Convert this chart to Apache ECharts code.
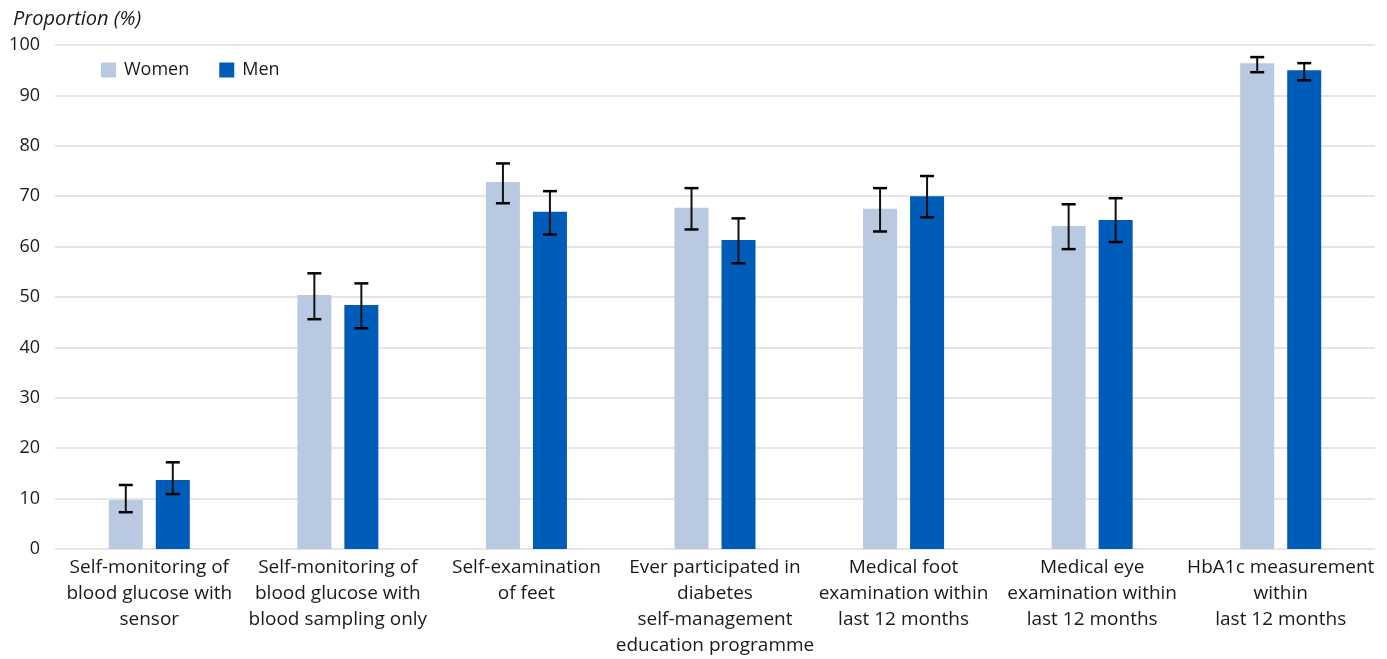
<!DOCTYPE html>
<html><head><meta charset="utf-8">
<script src="https://cdn.jsdelivr.net/npm/echarts@6/dist/echarts.min.js"></script>
<style>html,body{margin:0;padding:0;background:#fff}#c{width:1387px;height:659px}</style>
</head><body><div id="c"></div>
<script>
const categories = [
  "Self-monitoring of\nblood glucose with\nsensor",
  "Self-monitoring of\nblood glucose with\nblood sampling only",
  "Self-examination\nof feet",
  "Ever participated in\ndiabetes\nself-management\neducation programme",
  "Medical foot\nexamination within\nlast 12 months",
  "Medical eye\nexamination within\nlast 12 months",
  "HbA1c measurement\nwithin\nlast 12 months"
];
const women = [9.7, 50.4, 72.8, 67.7, 67.5, 64.1, 96.4];
const womenLow = [7.3, 45.6, 68.6, 63.4, 63.0, 59.5, 94.6];
const womenHigh = [12.7, 54.7, 76.5, 71.6, 71.6, 68.4, 97.6];
const men = [13.7, 48.4, 66.9, 61.3, 70.0, 65.3, 95.0];
const menLow = [10.9, 43.8, 62.4, 56.7, 65.8, 60.9, 93.0];
const menHigh = [17.2, 52.7, 71.0, 65.6, 74.0, 69.6, 96.4];
const yTicks = [0, 10, 20, 30, 40, 50, 60, 70, 80, 90, 100];

const BAR_W = 34, BAR_GAP = 13;
const FONT = "Open Sans";

function errSeries(name, low, high, side) {
  return {
    type: 'custom', name: name + ' CI', silent: true, z: 10,
    data: low.map((l, i) => [i, l, high[i]]),
    renderItem: function (params, api) {
      const i = api.value(0);
      const p1 = api.coord([i, api.value(1)]);
      const p2 = api.coord([i, api.value(2)]);
      const x = p1[0] + side * (BAR_W + BAR_GAP) / 2;
      const cap = 7;
      const st = { stroke: '#000', lineWidth: 2.5 };
      return { type: 'group', children: [
        { type: 'line', shape: { x1: x, y1: p1[1], x2: x, y2: p2[1] }, style: { stroke: '#111', lineWidth: 2 } },
        { type: 'line', shape: { x1: x - cap, y1: p1[1], x2: x + cap, y2: p1[1] }, style: st },
        { type: 'line', shape: { x1: x - cap, y1: p2[1], x2: x + cap, y2: p2[1] }, style: st }
      ]};
    }
  };
}

const chart = echarts.init(document.getElementById('c'));
chart.setOption({
  animation: false,
  textStyle: { fontFamily: FONT, color: '#1a1a1a' },
  title: { text: 'Proportion (%)', left: 8, top: 4,
    textStyle: { fontFamily: FONT, fontStyle: 'italic', fontWeight: 'normal', fontSize: 20, color: '#1a1a1a' } },
  legend: {
    left: 96, top: 56, itemWidth: 15, itemHeight: 15, itemGap: 30,
    icon: 'rect',
    data: ['Women', 'Men'],
    textStyle: { fontFamily: FONT, fontSize: 18, color: '#1a1a1a', padding: [0, 0, 0, 3] }
  },
  grid: { left: 55, right: 12, top: 45, bottom: 105, containLabel: false },
  xAxis: {
    type: 'category', data: categories,
    axisLine: { show: false }, axisTick: { show: false },
    axisLabel: { fontFamily: FONT, fontSize: 19, color: '#1a1a1a', lineHeight: 26, margin: 6, interval: 0 }
  },
  yAxis: {
    type: 'value', min: yTicks[0], max: yTicks[yTicks.length - 1], interval: 10,
    axisLine: { show: false }, axisTick: { show: false },
    axisLabel: { fontFamily: FONT, fontSize: 18, color: '#1a1a1a', margin: 15 },
    splitLine: { lineStyle: { color: '#dcdcdc', width: 1.5 } }
  },
  series: [
    { name: 'Women', type: 'bar', data: women, barWidth: BAR_W, barGap: (BAR_GAP / BAR_W * 100) + '%',
      itemStyle: { color: '#b9c9e1' } },
    { name: 'Men', type: 'bar', data: men, barWidth: BAR_W,
      itemStyle: { color: '#005cb9' } },
    errSeries('Women', womenLow, womenHigh, -1),
    errSeries('Men', menLow, menHigh, 1)
  ]
});
</script></body></html>
